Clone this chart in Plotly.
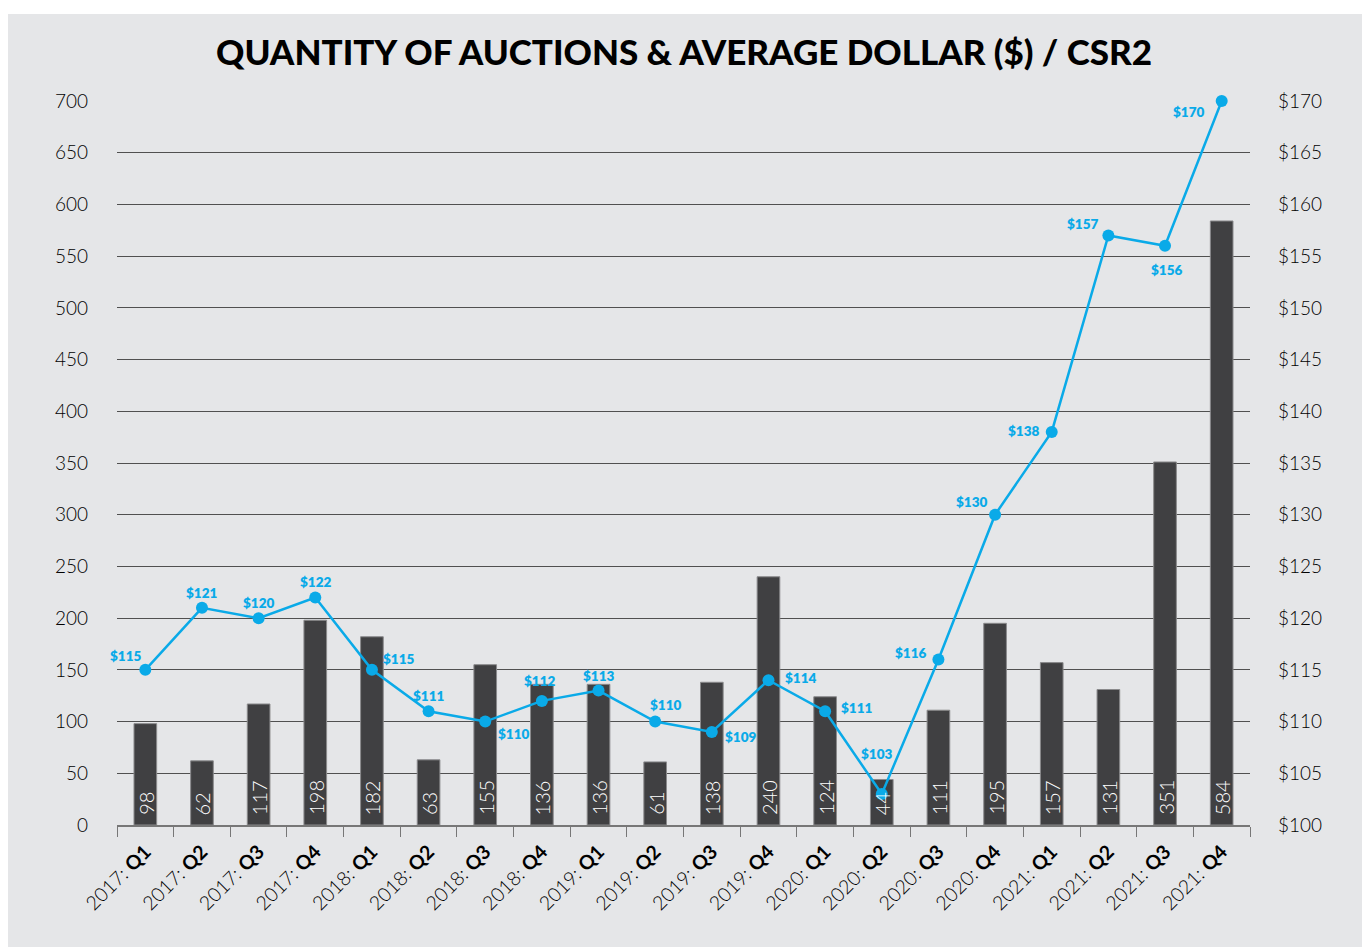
import plotly.graph_objects as go

years = ["2017", "2017", "2017", "2017", "2018", "2018", "2018", "2018",
         "2019", "2019", "2019", "2019", "2020", "2020", "2020", "2020",
         "2021", "2021", "2021", "2021"]
quarters = ["Q1", "Q2", "Q3", "Q4"] * 5
auctions = [98, 62, 117, 198, 182, 63, 155, 136, 136, 61, 138, 240, 124, 44, 111, 195, 157, 131, 351, 584]
avg_dollar = [115, 121, 120, 122, 115, 111, 110, 112, 113, 110, 109, 114, 111, 103, 116, 130, 138, 157, 156, 170]
left_ticks = list(range(0, 701, 50))
right_ticks = list(range(100, 171, 5))

categories = [f"{y}: <b>{q}</b>" for y, q in zip(years, quarters)]

# label offsets (style) for the dollar labels: (xshift, yshift)
label_offsets = [(-20, 14), (0, 15), (0, 15), (0, 15), (27, 11), (0, 15), (28, -12), (-2, 20),
                 (0, 15), (10, 17), (29, -5), (32, 2), (31, 3), (-5, 40), (-28, 7), (-24, 13),
                 (-28, 1), (-26, 11), (1, -24), (-33, -11)]

BG = "#e5e6e8"
BAR = "#404042"
BLUE = "#0aaae8"
FONT = "Lato"

fig = go.Figure()
fig.add_trace(go.Bar(
    x=categories, y=auctions, marker=dict(color=BAR, line=dict(color="#8a8a8c", width=1)),
    yaxis="y", showlegend=False, hoverinfo="skip",
))
fig.add_trace(go.Scatter(
    x=categories, y=avg_dollar, yaxis="y2", mode="lines+markers",
    line=dict(color=BLUE, width=2.5), marker=dict(color=BLUE, size=12),
    showlegend=False, hoverinfo="skip", cliponaxis=False,
))

annotations = []
for c, v in zip(categories, auctions):
    annotations.append(dict(
        x=c, y=0, xref="x", yref="y", text=str(v), textangle=-90, showarrow=False,
        yanchor="bottom", xanchor="center", yshift=8,
        font=dict(family=FONT, size=20, color="white", weight=300),
    ))
for c, v, (dx, dy) in zip(categories, avg_dollar, label_offsets):
    annotations.append(dict(
        x=c, y=v, xref="x", yref="y2", text=f"${v}", showarrow=False,
        xshift=dx, yshift=dy,
        font=dict(family=FONT, size=13.5, color=BLUE, weight=800),
    ))
annotations.append(dict(
    x=0.5, y=1.0, xref="paper", yref="paper", xanchor="center", yanchor="bottom",
    yshift=27, showarrow=False,
    text="QUANTITY OF AUCTIONS & AVERAGE DOLLAR ($) / CSR2",
    font=dict(family=FONT, size=35, color="black", weight=900),
))

OFF = 8  # page body margin
W, H = 1370 - OFF, 949 - OFF
L, T = 117 - OFF, 101 - OFF
R = W - (1250 - OFF)
B = H - (825 - OFF)
pw, ph = W - L - R, H - T - B
shapes = [dict(
    type="rect", xref="paper", yref="paper", layer="below",
    x0=(7 - OFF - L) / pw, x1=(1363 - OFF - L) / pw,
    y0=(H - B - (947 - OFF)) / ph, y1=(H - B - (14 - OFF)) / ph,
    fillcolor=BG, line=dict(width=0),
)]

fig.update_layout(
    width=W, height=H,
    margin=dict(l=L, r=R, t=T, b=B),
    paper_bgcolor="white", plot_bgcolor=BG,
    bargap=0.6,
    shapes=shapes, annotations=annotations,
    xaxis=dict(
        type="category", range=[-0.5, len(categories) - 0.5],
        tickangle=-45, ticks="outside", tickson="boundaries",
        ticklen=10, tickcolor="#777", showline=True, linecolor="#777", linewidth=1.5,
        showgrid=False, ticklabelstandoff=6,
        tickfont=dict(family=FONT, size=19.5, color="black", weight=300),
    ),
    yaxis=dict(
        range=[0, 700], tickvals=left_ticks, showgrid=True, gridcolor="#505050", gridwidth=1,
        zeroline=False, showline=False, ticks="", ticklabelstandoff=28,
        tickfont=dict(family=FONT, size=19, color="black", weight=300),
    ),
    yaxis2=dict(
        range=[100, 170], tickvals=right_ticks, ticktext=[f"${v}" for v in right_ticks],
        overlaying="y", side="right", showgrid=False, zeroline=False, showline=False,
        ticks="", ticklabelstandoff=27,
        tickfont=dict(family=FONT, size=19, color="black", weight=300),
    ),
)

fig.write_html("out.html")
